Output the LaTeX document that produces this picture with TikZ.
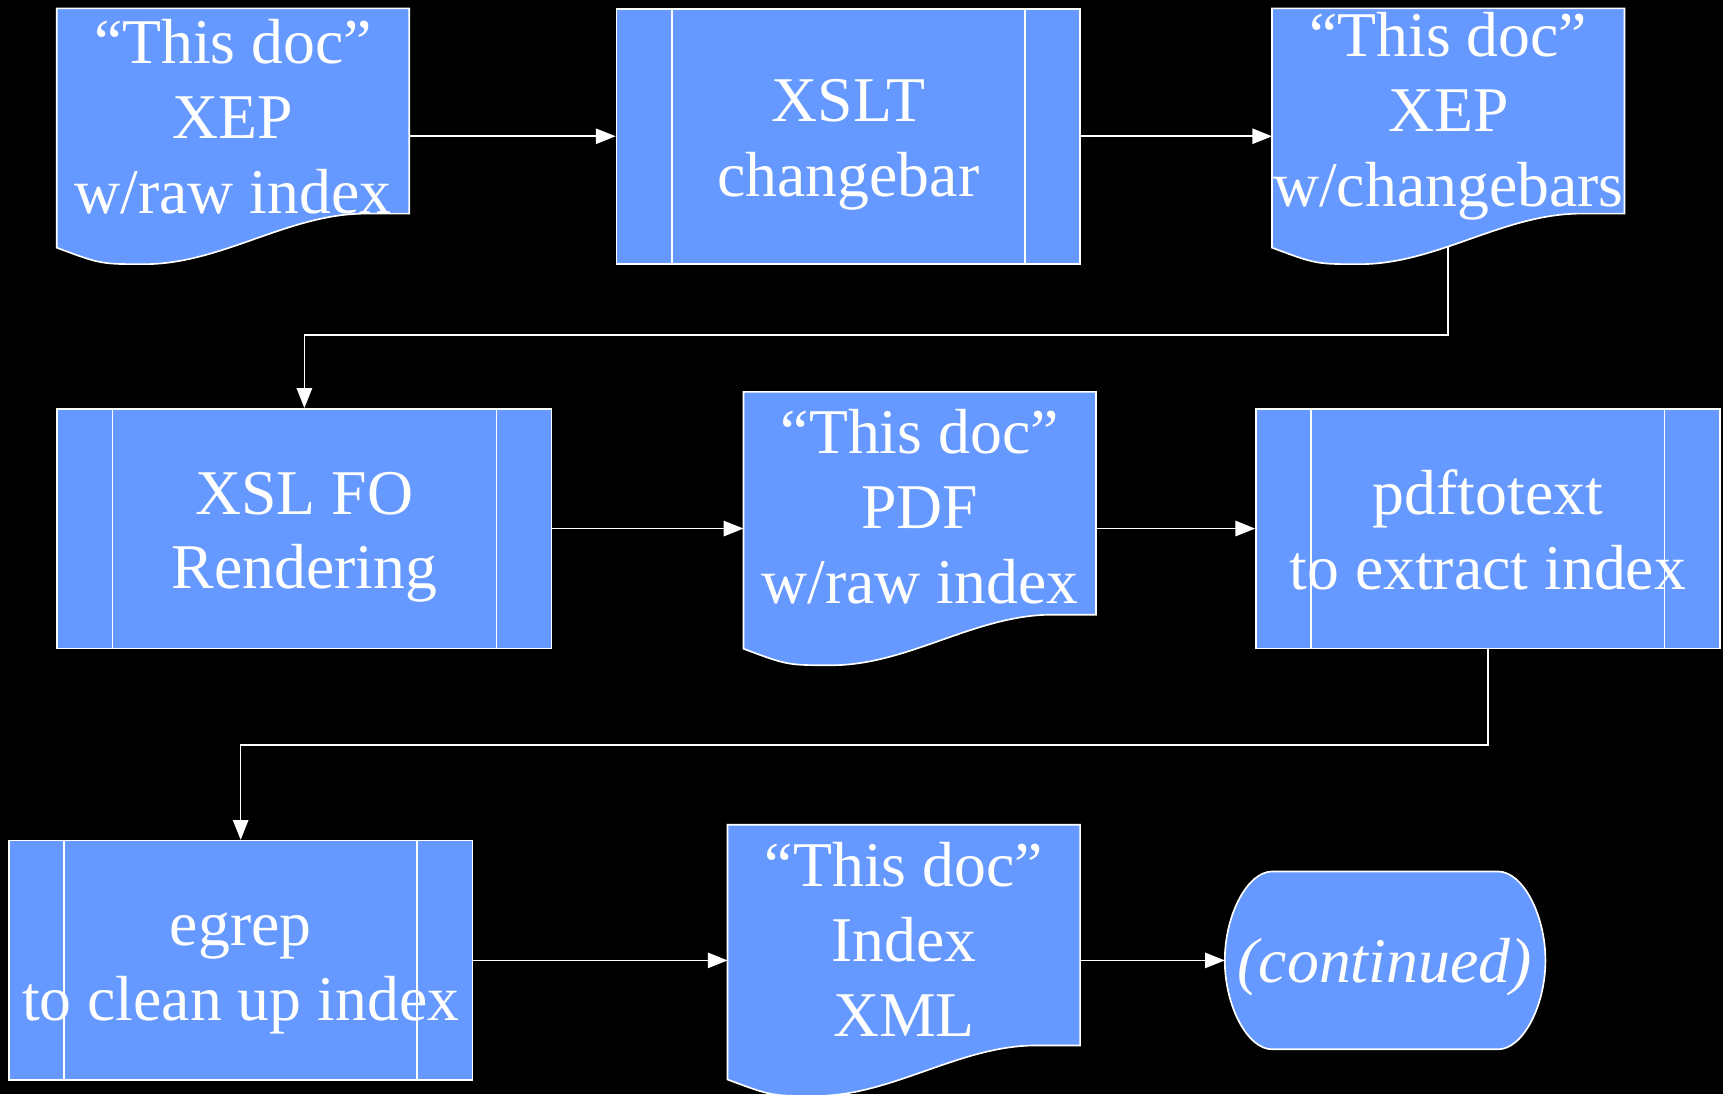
\documentclass[tikz,border=0pt]{standalone}
\usepackage{fontspec}
\setmainfont{Liberation Serif}
\usetikzlibrary{arrows.meta,backgrounds,calc}
\definecolor{boxfill}{HTML}{6699FF}
\newcommand\docshape[1]{%
\path[boxline,fill=boxfill] (#1.north west) -- (#1.north east) -- ($(#1.south east)+(0,-46)$) -- ($(#1.south east)+(-40,-46)$) .. controls ($(#1.south east)+(-110,-46)$) and ($(#1.south west)+(150,0)$) .. ($(#1.south west)+(80,0)$) .. controls ($(#1.south west)+(40,0)$) .. ($(#1.south west)+(0,-15)$) -- cycle;}
\begin{document}
\begin{tikzpicture}[x=0.5pt,y=-0.5pt,
  boxline/.style={draw=white,line width=0.75pt},
  bigfont/.style={font=\fontsize{29}{34}\selectfont},
  procbox/.style={boxline,fill=boxfill,rectangle,inner sep=0pt,minimum width=211pt,minimum height=109pt},
  docanchor/.style={rectangle,inner sep=0pt,minimum width=160pt},
  txt/.style={text=white,align=center,bigfont,inner sep=0pt},
  arr/.style={draw=white,line width=0.75pt,-{Triangle[length=9pt,width=7pt]}},
]
\useasboundingbox (0,0) rectangle (1568,996);
% nodes
\node[docanchor,minimum height=116pt] (d1) at (212,124) {};
\node[procbox,minimum height=116pt] (p1) at (772,124) {};
\node[docanchor,minimum height=116pt] (d2) at (1318,124) {};
\node[procbox,minimum width=225pt] (p2) at (277,481) {};
\node[docanchor,minimum height=124pt] (d3) at (837,481) {};
\node[procbox] (p3) at (1354,481) {};
\node[procbox] (p4) at (219,874) {};
\node[docanchor,minimum height=123pt] (d4) at (822.5,874) {};
\node[rectangle,inner sep=0pt,minimum width=145.5pt,minimum height=80.5pt] (t1) at (1260.5,874) {};
% process texts
\node[txt] (p1t) at (772,132) {XSLT\\changebar};
\node[txt] (p2t) at (277,489) {XSL FO\\Rendering};
\node[txt] (p3t) at (1354,482) {pdftotext\\to extract index};
\node[txt] (p4t) at (219,886) {egrep\\to clean up index};
\node[txt,font=\fontsize{29}{34}\selectfont\itshape] (t1t) at (1260,880) {(continued)};
% doc texts
\node[txt] (d1t) at (212,106) {“This doc”\\XEP\\w/raw index};
\node[txt] (d2t) at (1318,106) {“This doc”\\XEP\\w/changebars};
\node[txt] (d3t) at (837,461) {“This doc”\\PDF\\w/raw index};
\node[txt] (d4t) at (822.5,855) {“This doc”\\Index\\XML};
% inner lines of process boxes
\foreach \p in {p1,p2,p3,p4}{
  \draw[boxline] ($(\p.north west)+(51,0)$) -- ($(\p.south west)+(51,0)$);
  \draw[boxline] ($(\p.north east)+(-51,0)$) -- ($(\p.south east)+(-51,0)$);
}
% horizontal arrows
\draw[arr] (d1.east) -- (d1.east -| p1.west);
\draw[arr] (p1.east) -- (p1.east -| d2.west);
\draw[arr] (p2.east) -- (p2.east -| d3.west);
\draw[arr] (d3.east) -- (d3.east -| p3.west);
\draw[arr] (p4.east) -- (p4.east -| d4.west);
\draw[arr] (d4.east |- t1.west) -- (t1.west);
\coordinate (bend1) at (0,305);
\coordinate (bend2) at (0,678);
\begin{scope}[on background layer]
  \fill[black] (0,0) rectangle (1568,996);
  \draw[arr] (d2.center) -- (d2.center |- bend1) -- (p2.north |- bend1) -- (p2.north);
  \draw[arr] (p3.south) -- (p3.south |- bend2) -- (p4.north |- bend2) -- (p4.north);
  \docshape{d1}
  \docshape{d2}
  \docshape{d3}
  \docshape{d4}
  \path[boxline,fill=boxfill] ($(t1.north west)+(43,0)$) -- ($(t1.north east)+(-43,0)$) .. controls ($(t1.north east)+(-21,0)$) and ($(t1.east)+(0,-42)$) .. (t1.east) .. controls ($(t1.east)+(0,42)$) and ($(t1.south east)+(-21,0)$) .. ($(t1.south east)+(-43,0)$) -- ($(t1.south west)+(43,0)$) .. controls ($(t1.south west)+(21,0)$) and ($(t1.west)+(0,42)$) .. (t1.west) .. controls ($(t1.west)+(0,-42)$) and ($(t1.north west)+(21,0)$) .. cycle;
\end{scope}
\end{tikzpicture}
\end{document}
